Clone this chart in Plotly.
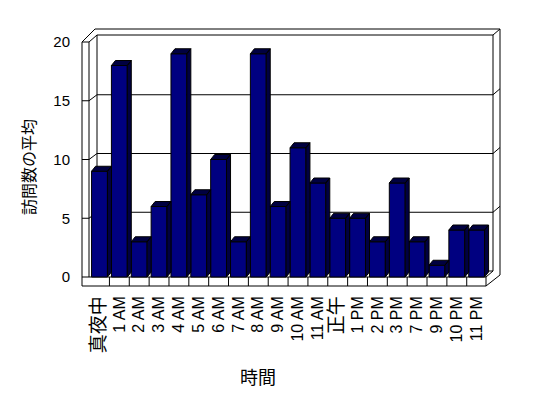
import plotly.graph_objects as go

# ---- data ----
categories = ["真夜中", "1 AM", "2 AM", "3 AM", "4 AM", "5 AM", "6 AM", "7 AM",
              "8 AM", "9 AM", "10 AM", "11 AM", "正午", "1 PM", "2 PM", "3 PM",
              "7 PM", "9 PM", "10 PM", "11 PM"]
visits = [9, 18, 3, 6, 19, 7, 10, 3, 19, 6, 11, 8, 5, 5, 3, 8, 3, 1, 4, 4]
y_ticks = [0, 5, 10, 15, 20]
x_title = "時間"
y_title = "訪問数の平均"

# ---- layout geometry (screen pixels; the page body adds an 8px margin) ----
OFF = 8
W, H = 548 - 2 * OFF, 398 - 2 * OFF
L, R, T, B = 80, 505, 28, 292
CAT_PX = 19.85        # pixels per category
X0_PX = 99.5          # pixel centre of first category
Y0_PX = 277           # pixel of value 0
V_PX = 11.75          # pixels per unit
xr = [(L - X0_PX) / CAT_PX, (R - X0_PX) / CAT_PX]
yr = [(Y0_PX - B) / V_PX, (Y0_PX - T) / V_PX]

BAR_W = 0.8
DX = 4 / CAT_PX
DY = 5 / V_PX
FRONT = "#000080"
DEPTH = "#000040"

xs = list(range(len(categories)))

# 3D top / side faces derived from the values
fx, fy = [], []
for i, v in zip(xs, visits):
    x0, x1 = i - BAR_W / 2, i + BAR_W / 2
    fx += [x0, x0 + DX, x1 + DX, x1, x0, None]
    fy += [v, v + DY, v + DY, v, v, None]
    fx += [x1, x1 + DX, x1 + DX, x1, x1, None]
    fy += [v, v + DY, DY, 0, v, None]


def tick_label(s):
    if any(ord(c) > 0x3000 for c in s):
        return '<span style="font-size:19px">%s</span>' % s
    return s


fig = go.Figure()
fig.add_trace(go.Bar(x=xs, y=visits, width=BAR_W, marker=dict(color=FRONT, line=dict(color="black", width=1)),
                     hoverinfo="skip", showlegend=False))
fig.add_trace(go.Scatter(x=fx, y=fy, mode="lines", fill="toself", fillcolor=DEPTH,
                         line=dict(color="black", width=1), hoverinfo="skip", showlegend=False))


def px(x):
    return (x - L) / (R - L)


def py(y):
    return (B - y) / (B - T)


shapes = []


def line(x0, y0, x1, y1):
    shapes.append(dict(type="line", xref="paper", yref="paper", x0=px(x0), y0=py(y0), x1=px(x1), y1=py(y1),
                       line=dict(color="black", width=1), layer="below"))


WL_OUT, WL_IN, BK_L, BK_R, BK_R_OUT = 82, 89, 97, 493, 500
TOP_F = Y0_PX - V_PX * y_ticks[-1]
FL_TOP, FL_BOT, FL_R, FL_BACK = Y0_PX, 286, 486, Y0_PX - 6

line(WL_OUT, TOP_F, WL_OUT, FL_BOT)
line(WL_IN, TOP_F, WL_IN, FL_TOP)
line(WL_OUT, TOP_F, WL_IN, TOP_F)
line(WL_OUT, TOP_F, BK_L - 2, TOP_F - 13)
line(WL_IN, TOP_F, BK_L, TOP_F - 7)
line(BK_L - 2, TOP_F - 13, BK_R_OUT, TOP_F - 13)
line(BK_L, TOP_F - 7, BK_R, TOP_F - 7)
line(BK_L, TOP_F - 7, BK_L, FL_BACK)
line(BK_R, TOP_F - 7, BK_R, FL_BACK)
line(BK_R_OUT, TOP_F - 13, BK_R_OUT, FL_BOT - 11)
line(BK_R, TOP_F - 7, BK_R_OUT, TOP_F - 13)
line(WL_OUT, FL_TOP, FL_R, FL_TOP)
line(WL_OUT, FL_BOT, FL_R, FL_BOT)
line(FL_R, FL_TOP, FL_R, FL_BOT)
line(FL_R, FL_BOT, BK_R_OUT, FL_BOT - 11)
line(FL_R, FL_TOP, BK_R, FL_BACK)
line(BK_L, FL_BACK, BK_R, FL_BACK)
for i in xs[:-1]:
    xd = X0_PX + CAT_PX * (i + 0.5)
    line(xd, FL_TOP, xd, FL_BOT)
for v in y_ticks[1:-1]:
    yf = Y0_PX - V_PX * v
    line(WL_OUT, yf, WL_IN, yf)
    line(WL_IN, yf, BK_L, yf - 6)
    line(BK_L, yf - 6, BK_R, yf - 6)
    line(BK_R, yf - 6, BK_R_OUT, yf - 12)

font = dict(family="Liberation Sans, Arial, Noto Sans CJK JP", size=15, color="black")
xfont = dict(family="Liberation Sans, Arial, Noto Sans CJK JP", size=16, color="black")

fig.update_layout(
    width=W, height=H,
    margin=dict(l=L - OFF, r=(548 - OFF) - R, t=T - OFF, b=(398 - OFF) - B, pad=0),
    paper_bgcolor="white", plot_bgcolor="rgba(0,0,0,0)",
    font=font,
    shapes=shapes,
    xaxis=dict(range=xr, tickvals=xs, ticktext=[tick_label(c) for c in categories], tickangle=-90,
               showgrid=False, zeroline=False, showline=False, ticks="", tickfont=xfont, fixedrange=True),
    yaxis=dict(range=yr, tickvals=y_ticks, showgrid=False, zeroline=False, showline=False, ticks="",
               tickfont=font, ticklabelstandoff=9, fixedrange=True),
    annotations=[
        dict(text=y_title, xref="paper", yref="paper", x=px(28), y=py(167), xanchor="center", yanchor="middle",
             textangle=-90, showarrow=False, font=dict(family="Noto Sans CJK JP", size=16, color="black")),
        dict(text=x_title, xref="paper", yref="paper", x=px(258), y=py(376), xanchor="center", yanchor="middle",
             showarrow=False, font=dict(family="Noto Sans CJK JP", size=18, color="black")),
    ],
)

fig.write_html("out.html")
